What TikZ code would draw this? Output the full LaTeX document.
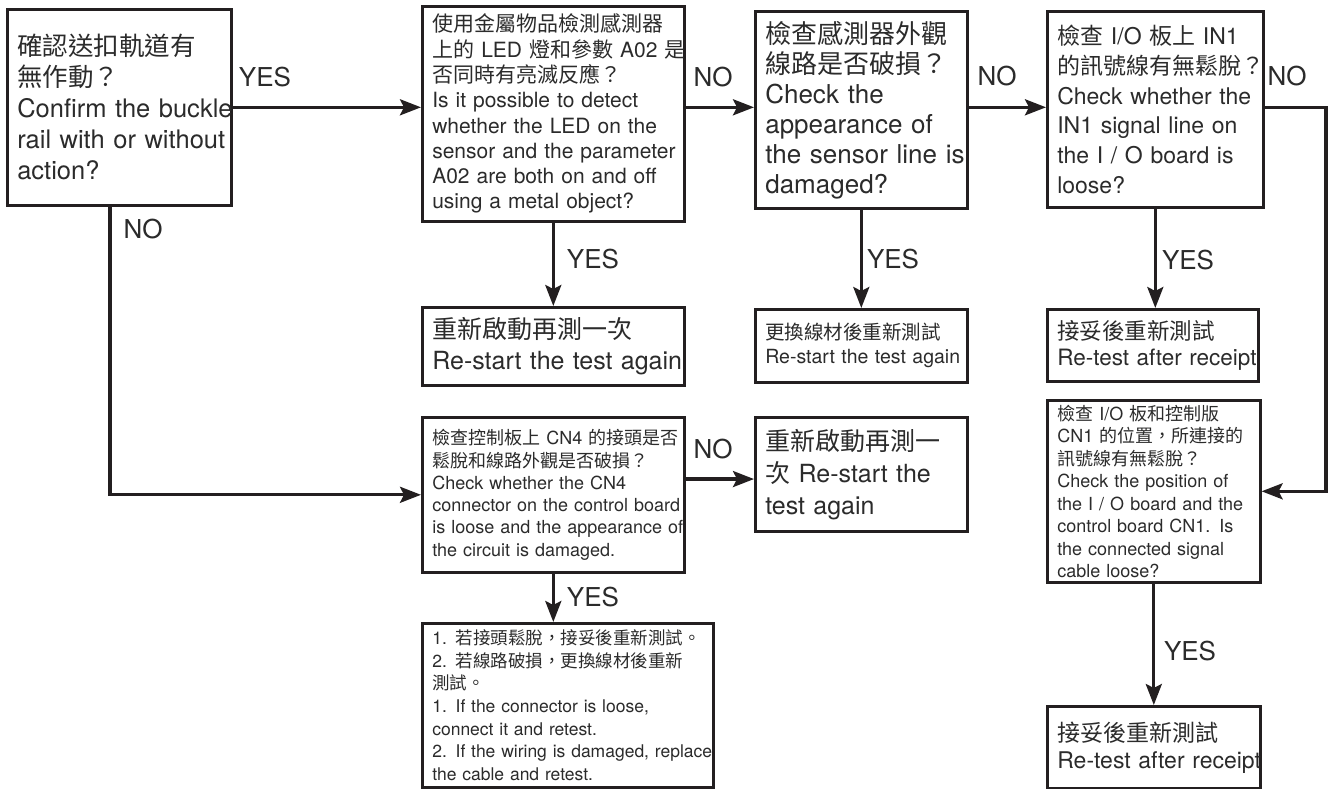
\documentclass[tikz,border=0pt]{standalone}
\usepackage{fontspec}
\setmainfont{TeX Gyre Heros}
\newfontfamily\cjk{Noto Sans CJK TC}
\usetikzlibrary{arrows.meta,calc}
\definecolor{ink}{HTML}{231F20}
\definecolor{txt}{HTML}{2B2B2B}
\newcommand\zh[1]{{\cjk #1}}
\newcommand\tline[1]{\makebox[\hsize][l]{#1}}
\tikzset{
  box/.style={draw=ink, line width=2.6pt, anchor=north west, inner xsep=10pt, inner ysep=2pt, align=left, text=txt},
  arr/.style={draw=ink, line width=3.2pt, -{Stealth[length=21pt,width=16pt,inset=4pt]}},
  lab/.style={font=\fontsize{26}{26}\selectfont, text=txt, inner sep=0pt}
}
\begin{document}
\begin{tikzpicture}[x=1pt,y=-1pt]
\useasboundingbox (0,0) rectangle (1332,788);
% top row
\node[box, text width=204pt, minimum height=196pt, font=\fontsize{25.5}{31}\selectfont] (b1) at (6,8)
  {\zh{確認送扣軌道有}\\\zh{無作動？}\\\tline{Confirm the buckle}\\\tline{rail with or without}\\action?};
\node[box, text width=242pt, minimum height=215pt, font=\fontsize{21}{25.3}\selectfont] (b2) at (421,5)
  {\zh{使用金屬物品檢測感測器}\\\tline{\zh{上的} LED \zh{燈和參數} A02 \zh{是}}\\\zh{否同時有亮滅反應？}\\\tline{Is it possible to detect}\\\tline{whether the LED on the}\\\tline{sensor and the parameter}\\\tline{A02 are both on and off}\\\tline{using a metal object?}};
\node[box, text width=192pt, minimum height=197pt, font=\fontsize{26}{30}\selectfont] (b3) at (754,10)
  {\zh{檢查感測器外觀}\\\zh{線路是否破損？}\\Check the\\\tline{appearance of}\\\tline{the sensor line is}\\damaged?};
\node[box, text width=196pt, minimum height=196pt, font=\fontsize{23}{29.7}\selectfont] (b4) at (1046,10)
  {\tline{\zh{檢查} I/O \zh{板上} IN1}\\\tline{\zh{的訊號線有無鬆脫？}}\\\tline{Check whether the}\\\tline{IN1 signal line on}\\\tline{the I / O board is}\\loose?};
% second row
\node[box, text width=242pt, minimum height=78pt, font=\fontsize{25}{31}\selectfont] (r1) at (421,306)
  {\zh{重新啟動再測一次}\\\tline{Re-start the test again}};
\node[box, text width=192pt, minimum height=73pt, font=\fontsize{19.5}{24}\selectfont] (r6) at (754,308)
  {\tline{\zh{更換線材後重新測試}}\\\tline{Re-start the test again}};
\node[box, text width=191pt, minimum height=72pt, font=\fontsize{22.5}{26.5}\selectfont] (r7) at (1046,308)
  {\zh{接妥後重新測試}\\\tline{Re-test after receipt}};
% lower part
\node[box, text width=242pt, minimum height=155pt, font=\fontsize{18}{22.3}\selectfont] (cn4) at (421,416)
  {\tline{\zh{檢查控制板上} CN4 \zh{的接頭是否}}\\\zh{鬆脫和線路外觀是否破損？}\\\tline{Check whether the CN4}\\\tline{connector on the control board}\\\tline{is loose and the appearance of}\\\tline{the circuit is damaged.}};
\node[box, text width=192pt, minimum height=114pt, font=\fontsize{25}{32}\selectfont] (r2) at (754,416)
  {\zh{重新啟動再測一}\\\tline{\zh{次} Re-start the}\\test again};
\node[box, text width=271pt, minimum height=164pt, font=\fontsize{17.5}{22.7}\selectfont] (ans) at (421,622)
  {\tline{1. \zh{若接頭鬆脫，接妥後重新測試。}}\\\tline{2. \zh{若線路破損，更換線材後重新}}\\\zh{測試。}\\\tline{1. If the connector is loose,}\\\tline{connect it and retest.}\\\tline{2. If the wiring is damaged, replace}\\\tline{the cable and retest.}};
\node[box, text width=193pt, minimum height=182pt, font=\fontsize{18}{22.5}\selectfont] (io) at (1046,399)
  {\tline{\zh{檢查} I/O \zh{板和控制版}}\\\tline{CN1 \zh{的位置，所連接的}}\\\zh{訊號線有無鬆脫？}\\\tline{Check the position of}\\\tline{the I / O board and the}\\\tline{control board CN1. Is}\\\tline{the connected signal}\\\tline{cable loose?}};
\node[box, text width=193pt, minimum height=82pt, font=\fontsize{23}{27}\selectfont] (fin) at (1046,705)
  {\zh{接妥後重新測試}\\\tline{Re-test after receipt}};
% connectors
\coordinate (nr) at (1326,107);
\coordinate (nl) at (110,0);
\draw[arr] (b1.east) -- (b1.east -| b2.west);
\draw[arr] (b2.east |- b1.east) -- (b1.east -| b3.west);
\draw[arr] (b3.east |- b1.east) -- (b1.east -| b4.west);
\draw[arr] (b4.east |- b1.east) -| (nr |- io.east) -- (io.east);
\draw[arr] (b1.south -| nl) |- (cn4.west);
\draw[arr] (b2.south) -- (r1.north);
\draw[arr] (b3.south) -- (r6.north);
\draw[arr] (b4.south) -- (b4.south |- r7.north);
\coordinate (k) at ($(cn4.north east)!0.4!(cn4.south east)$);
\draw[arr] (k) -- (k -| r2.west);
\draw[arr] (cn4.south) -- (cn4.south |- ans.north);
\draw[arr] (io.south) -- (io.south |- fin.north);
% labels
\node[lab] (l1) at (265,77) {YES};
\node[lab] (l2) at (713,77) {NO};
\node[lab] (l3) at (997,76) {NO};
\node[lab] (l4) at (1287,76) {NO};
\node[lab] (l5) at (593,259) {YES};
\node[lab] (l6) at (893,259) {YES};
\node[lab] (l7) at (1188,260) {YES};
\node[lab] (l8) at (143,229) {NO};
\node[lab] (l9) at (713,449) {NO};
\node[lab] (l10) at (593,597) {YES};
\node[lab] (l11) at (1190,651) {YES};
\end{tikzpicture}
\end{document}
